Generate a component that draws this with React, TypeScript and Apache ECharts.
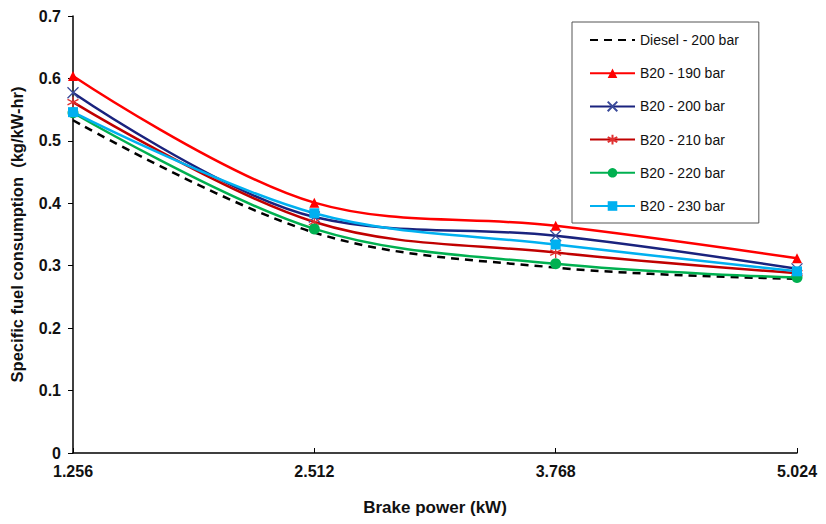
import React, { useEffect, useRef } from "react";
import * as echarts from "echarts";

const xValues = [1.256, 2.512, 3.768, 5.024];
const seriesNames = ["Diesel - 200 bar", "B20 - 190 bar", "B20 - 200 bar", "B20 - 210 bar", "B20 - 220 bar", "B20 - 230 bar"];
const diesel200 = [0.533, 0.353, 0.297, 0.279];
const b20_190 = [0.604, 0.401, 0.364, 0.312];
const b20_200 = [0.577, 0.378, 0.348, 0.295];
const b20_210 = [0.562, 0.370, 0.321, 0.288];
const b20_220 = [0.545, 0.359, 0.303, 0.281];
const b20_230 = [0.546, 0.384, 0.334, 0.291];
const yTicks = [0, 0.1, 0.2, 0.3, 0.4, 0.5, 0.6, 0.7];

const X_PATH = "path://M0,0L10,10M10,0L0,10";
const STAR_PATH = "path://M5,0L5,10M0,2.5L10,7.5M10,2.5L0,7.5";

export default function App() {
  const ref = useRef<HTMLDivElement>(null);
  useEffect(() => {
    if (!ref.current) return;
    const chart = echarts.init(ref.current, null, { renderer: "svg" });
    const mk = (vals: number[]) => vals.map((v, i) => [xValues[i], v]);
    const font = "Liberation Sans, Arial, sans-serif";
    const base = { type: "line", smooth: 0.35, lineStyle: { width: 2.5 } } as any;
    chart.setOption({
      animation: false,
      backgroundColor: "#ffffff",
      grid: { left: 72, right: 29, top: 16, bottom: 71 },
      legend: {
        orient: "vertical",
        left: 572,
        top: 22,
        itemWidth: 45,
        itemHeight: 12,
        itemGap: 19.2,
        padding: [11, 20, 10, 17],
        borderColor: "#555",
        borderWidth: 1,
        backgroundColor: "#fff",
        textStyle: { fontFamily: font, fontSize: 14, color: "#111" },
        data: [
          { name: seriesNames[0], itemStyle: { opacity: 0 } },
          seriesNames[1], seriesNames[2], seriesNames[3], seriesNames[4], seriesNames[5],
        ],
      },
      xAxis: {
        type: "value",
        min: 1.256,
        max: 5.024,
        interval: 1.256,
        name: "Brake power (kW)",
        nameLocation: "middle",
        nameGap: 46,
        nameTextStyle: { fontFamily: font, fontSize: 17, fontWeight: "bold", color: "#111" },
        axisLine: { lineStyle: { color: "#000", width: 1.5 } },
        axisTick: { show: true, inside: true, length: 5, lineStyle: { color: "#000" } },
        axisLabel: { fontFamily: font, fontSize: 16, fontWeight: "bold", color: "#111", margin: 10, formatter: (v: number) => v.toFixed(3) },
        splitLine: { show: false },
      },
      yAxis: {
        type: "value",
        min: yTicks[0],
        max: yTicks[yTicks.length - 1],
        interval: 0.1,
        name: "Specific fuel consumption  (kg/kW-hr)",
        nameLocation: "middle",
        nameGap: 48,
        nameTextStyle: { fontFamily: font, fontSize: 16.5, fontWeight: "bold", color: "#111" },
        axisLine: { show: true, lineStyle: { color: "#000", width: 1.5 } },
        axisTick: { show: true, length: 5, lineStyle: { color: "#000" } },
        axisLabel: { fontFamily: font, fontSize: 16, fontWeight: "bold", color: "#111", margin: 12, formatter: (v: number) => (v === 0 ? "0" : v.toFixed(1)) },
        splitLine: { show: false },
      },
      series: [
        { ...base, name: seriesNames[0], data: mk(diesel200), symbol: "none", z: 1, lineStyle: { width: 2.5, color: "#000", type: [8, 6] }, itemStyle: { color: "#000" } },
        { ...base, name: seriesNames[1], data: mk(b20_190), symbol: "triangle", symbolSize: 10, lineStyle: { width: 2.5, color: "#ff0000" }, itemStyle: { color: "#ff0000" } },
        { ...base, name: seriesNames[2], data: mk(b20_200), symbol: X_PATH, symbolSize: 11, lineStyle: { width: 2.5, color: "#1a237e" }, itemStyle: { color: "transparent", borderColor: "#3a4a9a", borderWidth: 1.3 } },
        { ...base, name: seriesNames[3], data: mk(b20_210), symbol: STAR_PATH, symbolSize: 11, lineStyle: { width: 2.5, color: "#c00000" }, itemStyle: { color: "transparent", borderColor: "#e03030", borderWidth: 1.3 } },
        { ...base, name: seriesNames[4], data: mk(b20_220), symbol: "circle", symbolSize: 11, lineStyle: { width: 2.5, color: "#00b050" }, itemStyle: { color: "#00b050" } },
        { ...base, name: seriesNames[5], data: mk(b20_230), symbol: "rect", symbolSize: 10, lineStyle: { width: 2.5, color: "#00b0f0" }, itemStyle: { color: "#00b0f0" } },
      ],
    });
    return () => chart.dispose();
  }, []);
  return <div ref={ref} style={{ width: 826, height: 524, position: "absolute", left: 0, top: 0 }} />;
}
